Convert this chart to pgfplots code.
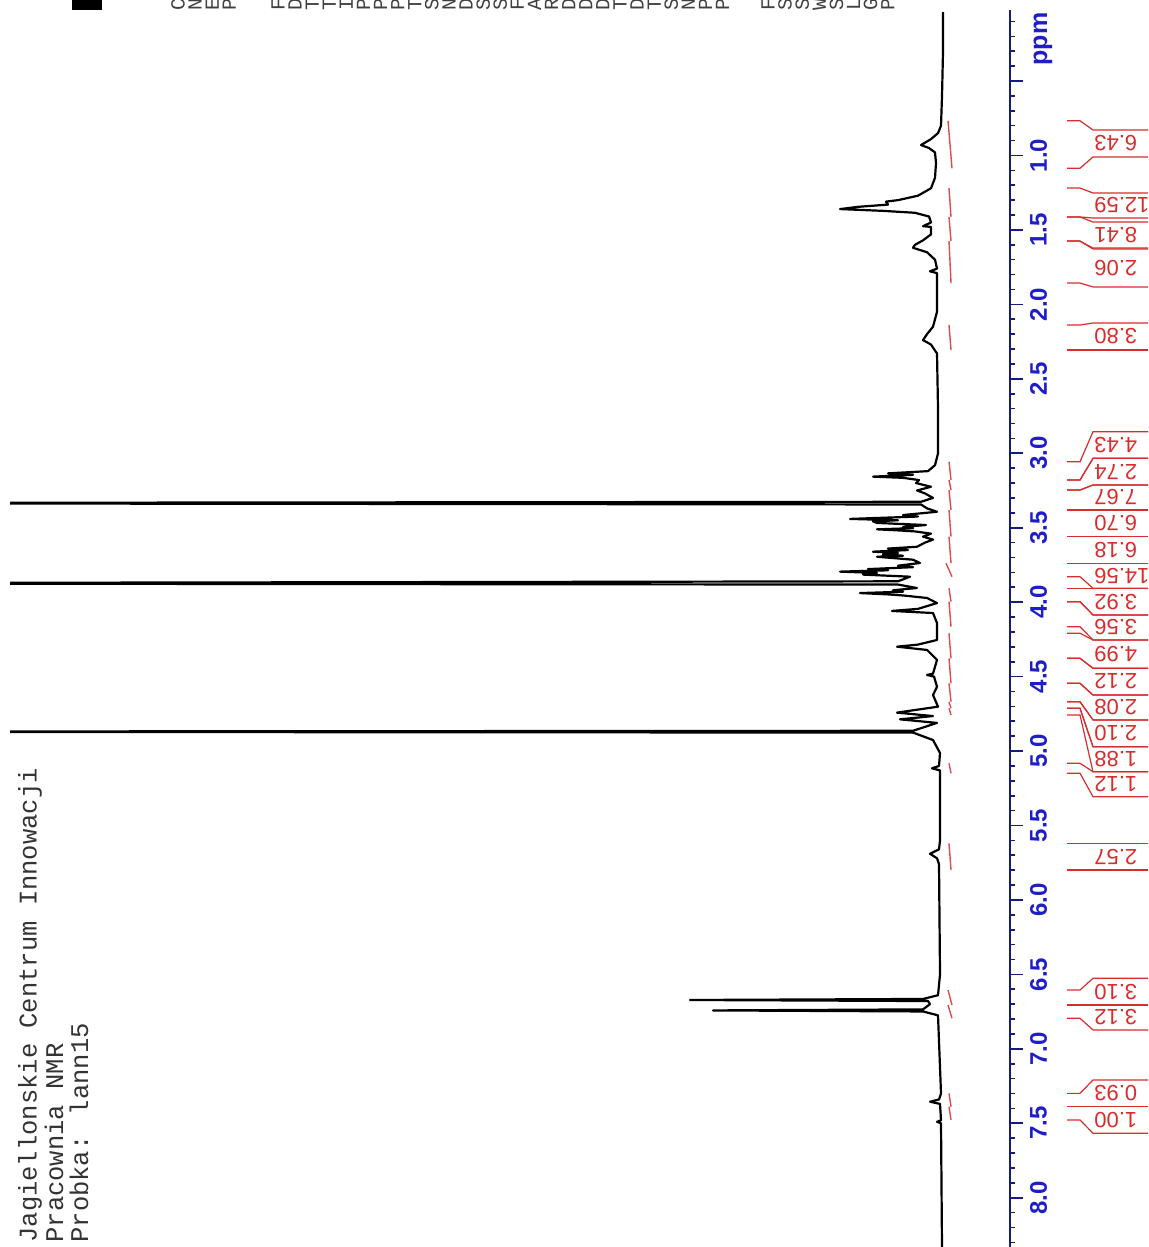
\documentclass[border=0pt]{standalone}
\usepackage{pgfplots}
\pgfplotsset{compat=1.18}
\usepackage{pgfplotstable}
\usepackage{fontspec}
\setmainfont{Liberation Sans}
\newfontfamily\monofont{Liberation Mono}
\definecolor{axblue}{RGB}{25,25,130}
\definecolor{tkblue}{RGB}{30,30,200}
\definecolor{intred}{RGB}{215,45,45}

\pgfplotstableread{
ppm int
0.037 0
0.30 0
0.60 1
0.80 2
0.85 5
0.89 12
0.93 22
0.95 14
0.98 8
1.05 7
1.15 8
1.22 12
1.27 25
1.30 45
1.31 57
1.33 55
1.345 85
1.360 103
1.372 60
1.385 28
1.41 14
1.45 12
1.475 20
1.48 12
1.53 12
1.57 20
1.60 28
1.62 30
1.65 16
1.70 8
1.76 6
1.778 13
1.79 6
2.05 6
2.15 10
2.20 16
2.24 20
2.27 12
2.33 6
2.70 5
3.00 5
3.08 8
3.12 15
3.135 55
3.145 30
3.157 70
3.165 40
3.18 24
3.20 27
3.225 12
3.25 26
3.27 18
3.30 10
3.326 22
3.335 1300
3.344 22
3.37 16
3.393 6
3.415 40
3.425 25
3.441 93
3.450 45
3.458 70
3.468 66
3.482 17
3.495 40
3.503 30
3.511 66
3.518 45
3.525 28
3.54 12
3.56 20
3.58 10
3.60 18
3.628 26
3.640 55
3.650 35
3.661 70
3.670 45
3.680 60
3.688 40
3.695 66
3.715 30
3.737 23
3.755 45
3.765 30
3.778 75
3.786 55
3.795 103
3.804 66
3.815 80
3.829 33
3.86 45
3.874 1300
3.882 45
3.905 26
3.92 50
3.930 40
3.939 83
3.948 55
3.955 40
3.972 16
4.006 6
4.045 25
4.059 51
4.073 10
4.14 6
4.254 6
4.285 25
4.299 46
4.321 16
4.388 6
4.48 10
4.489 16
4.50 9
4.568 6
4.624 10
4.702 5
4.742 46
4.765 10
4.787 43
4.811 6
4.864 30
4.870 1300
4.876 30
4.926 10
5.013 3
5.10 4
5.116 11
5.13 3
5.60 3
5.66 4
5.69 13
5.72 6
5.76 4
6.50 3
6.64 5
6.665 20
6.672 253
6.679 15
6.70 13
6.735 20
6.742 230
6.749 20
6.775 5
7.30 2
7.34 4
7.355 13
7.37 3
7.48 2
7.49 6
7.50 2
8.34 1
}\spec

\pgfplotstableread{
x ppm
5 0.767
9 1.086
nan nan
6 1.219
8 1.413
nan nan
6 1.413
8 1.575
nan nan
6 1.575
8 1.857
nan nan
6 2.139
8 2.307
nan nan
6 3.057
8 3.180
nan nan
6 3.180
8 3.247
nan nan
6 3.247
8 3.381
nan nan
6 3.381
8 3.560
nan nan
6 3.560
8 3.739
nan nan
3 3.739
9 3.829
nan nan
6 3.907
8 3.997
nan nan
6 3.997
8 4.165
nan nan
6 4.209
8 4.377
nan nan
6 4.377
8 4.545
nan nan
6 4.545
8 4.669
nan nan
6 4.669
8 4.713
nan nan
6 4.713
8 4.758
nan nan
6 5.082
8 5.149
nan nan
6 5.620
8 5.799
nan nan
5 6.605
9 6.706
nan nan
5 6.706
9 6.795
nan nan
6 7.299
8 7.389
nan nan
6 7.389
8 7.478
}\integ

\newcommand{\ilab}[6]{%
  \draw[intred, line width=0.6pt] (axis cs:124,#1) -- (axis cs:137,#1) -- (axis cs:150,#3) -- (axis cs:205,#3);
  \draw[intred, line width=0.6pt] (axis cs:124,#2) -- (axis cs:137,#2) -- (axis cs:150,#4) -- (axis cs:205,#4);
  \node[rotate=180, anchor=east, inner sep=0pt, text=intred, font=\fontsize{11}{11}\selectfont] at (axis cs:151,#5) {#6};
}

\begin{document}
\begin{tikzpicture}
\useasboundingbox (0,0) rectangle (574pt,623.5pt);
\fill[black] (36pt,618.5pt) rectangle (51pt,623.5pt);
\foreach \l [count=\i] in {C,N,E,P}{%
  \pgfmathsetmacro\xx{89+(\i-1)*8.55}
  \node[rotate=90, inner sep=0pt, text=black!75, font=\monofont\fontsize{10}{10}\selectfont] at (\xx pt,621pt) {\l};}
\foreach \l [count=\i] in {F,D,T,T,I,P,P,P,T,S,N,D,S,S,F,A,R,D,D,D,T,D,T,S,N,P,P}{%
  \pgfmathsetmacro\xx{139+(\i-1)*8.55}
  \node[rotate=90, inner sep=0pt, text=black!75, font=\monofont\fontsize{10}{10}\selectfont] at (\xx pt,621pt) {\l};}
\foreach \l [count=\i] in {F,S,S,W,S,L,G,P}{%
  \pgfmathsetmacro\xx{384+(\i-1)*8.55}
  \node[rotate=90, inner sep=0pt, text=black!75, font=\monofont\fontsize{10}{10}\selectfont] at (\xx pt,621pt) {\l};}
\node[rotate=90, anchor=base west, inner sep=0pt, text=black!80, font=\monofont\fontsize{12.75}{12.75}\selectfont] at (18.3pt,2pt) {Jagiellonskie Centrum Innowacji};
\node[rotate=90, anchor=base west, inner sep=0pt, text=black!80, font=\monofont\fontsize{12.75}{12.75}\selectfont] at (31.5pt,2pt) {Pracownia NMR};
\node[rotate=90, anchor=base west, inner sep=0pt, text=black!80, font=\monofont\fontsize{12.75}{12.75}\selectfont] at (44pt,2pt) {Probka: lann15};
\begin{axis}[
  at={(5pt,0pt)}, anchor=south west,
  scale only axis, width=500pt, height=618.5pt,
  xmin=-933, xmax=67, ymin=0.023, ymax=8.331,
  y dir=reverse,
  axis x line=none,
  axis y line=right,
  axis line style={axblue, line width=1.1pt, -},
  ytick={0.5,1.0,1.5,2.0,2.5,3.0,3.5,4.0,4.5,5.0,5.5,6.0,6.5,7.0,7.5,8.0},
  yticklabels={,1.0,1.5,2.0,2.5,3.0,3.5,4.0,4.5,5.0,5.5,6.0,6.5,7.0,7.5,8.0},
  minor ytick={0.1,0.2,...,8.3},
  tick align=outside,
  major tick length=6.5pt, minor tick length=2.5pt,
  tick style={axblue, line width=0.8pt},
  yticklabel style={rotate=90, anchor=north, text=tkblue, font=\bfseries\fontsize{12}{12}\selectfont},
  clip mode=individual,
]
\addplot[black, line width=1.1pt, sharp plot, line join=round] table[x expr=-\thisrow{int}, y=ppm] {\spec};
\addplot[intred!85, line width=0.7pt, unbounded coords=jump] table[x=x, y=ppm] {\integ};
\node[rotate=90, text=tkblue, font=\bfseries\fontsize{12.5}{12.5}\selectfont] at (axis cs:100,0.218) {ppm};
\ilab{0.767}{1.086}{0.829}{1.010}{0.920}{6.43}
\ilab{1.219}{1.413}{1.252}{1.420}{1.336}{12.59}
\ilab{1.413}{1.575}{1.447}{1.622}{1.535}{8.41}
\ilab{1.575}{1.857}{1.628}{1.883}{1.756}{2.06}
\ilab{2.139}{2.307}{2.125}{2.307}{2.216}{3.80}
\ilab{3.057}{3.180}{2.855}{3.034}{2.945}{4.43}
\ilab{3.180}{3.247}{3.034}{3.213}{3.124}{2.74}
\ilab{3.247}{3.381}{3.213}{3.381}{3.297}{7.67}
\ilab{3.381}{3.560}{3.381}{3.560}{3.471}{6.70}
\ilab{3.560}{3.739}{3.560}{3.739}{3.650}{6.18}
\ilab{3.739}{3.829}{3.739}{3.907}{3.823}{14.56}
\ilab{3.907}{3.997}{3.907}{4.086}{3.997}{3.92}
\ilab{3.997}{4.165}{4.086}{4.254}{4.170}{3.56}
\ilab{4.209}{4.377}{4.254}{4.444}{4.349}{4.99}
\ilab{4.377}{4.545}{4.444}{4.624}{4.534}{2.12}
\ilab{4.545}{4.669}{4.624}{4.791}{4.708}{2.08}
\ilab{4.669}{4.713}{4.791}{4.971}{4.881}{2.10}
\ilab{4.713}{4.758}{4.971}{5.139}{5.055}{1.88}
\ilab{5.082}{5.149}{5.139}{5.307}{5.223}{1.12}
\ilab{5.620}{5.799}{5.620}{5.799}{5.710}{2.57}
\ilab{6.605}{6.706}{6.526}{6.706}{6.616}{3.10}
\ilab{6.706}{6.795}{6.706}{6.873}{6.790}{3.12}
\ilab{7.299}{7.389}{7.209}{7.389}{7.299}{0.93}
\ilab{7.389}{7.478}{7.389}{7.567}{7.478}{1.00}
\end{axis}
\end{tikzpicture}
\end{document}
